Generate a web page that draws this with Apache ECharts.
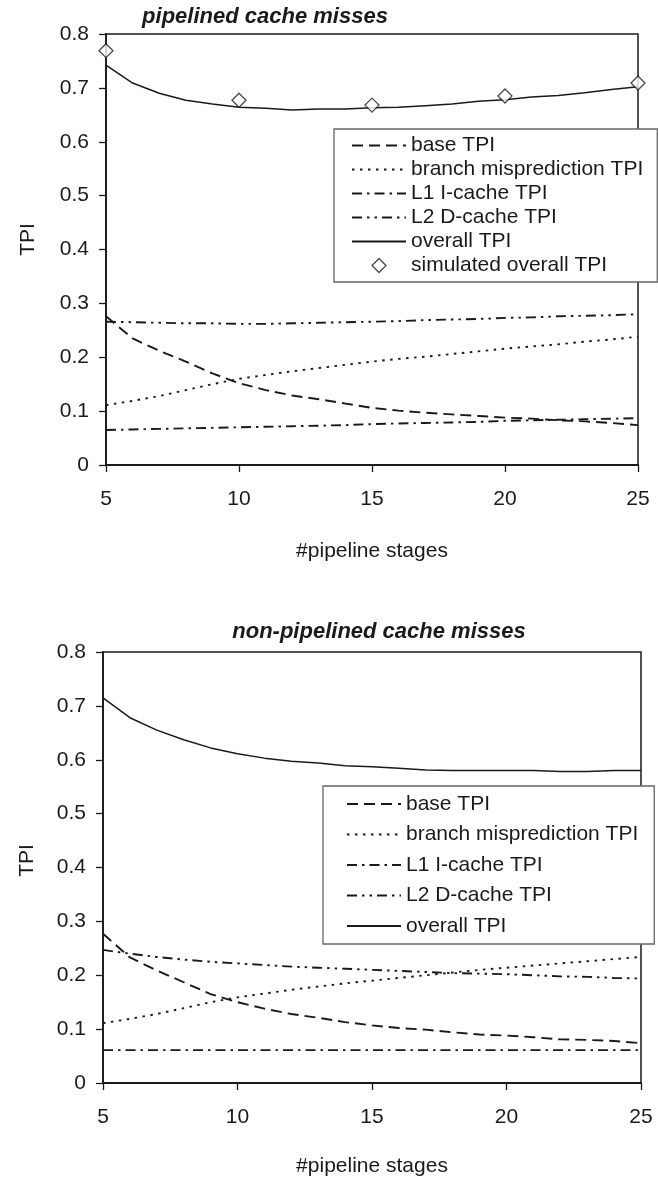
<!DOCTYPE html>
<html>
<head>
<meta charset="utf-8">
<script src="https://cdn.jsdelivr.net/npm/echarts@6/dist/echarts.min.js"></script>
<style>
html,body{margin:0;padding:0;background:#fff;}
#chart{width:658px;height:1183px;}
</style>
</head>
<body>
<div id="chart"></div>
<script>
// ---- data ----
var stages = [5,6,7,8,9,10,11,12,13,14,15,16,17,18,19,20,21,22,23,24,25];
var yTicks = [0,0.1,0.2,0.3,0.4,0.5,0.6,0.7,0.8];
var xTicks = [5,10,15,20,25];

var titleTop = 'pipelined cache misses';
var titleBottom = 'non-pipelined cache misses';
var seriesNames = ['base TPI','branch misprediction TPI','L1 I-cache TPI','L2 D-cache TPI','overall TPI','simulated overall TPI'];

// top chart: pipelined cache misses
var topBase     = [0.276,0.235,0.212,0.192,0.170,0.152,0.139,0.129,0.122,0.114,0.106,0.101,0.097,0.094,0.091,0.088,0.086,0.083,0.081,0.078,0.074];
var topBranch   = [0.111,0.119,0.128,0.139,0.150,0.160,0.167,0.174,0.180,0.186,0.192,0.197,0.201,0.206,0.211,0.216,0.220,0.224,0.229,0.233,0.238];
var topL1       = [0.065,0.066,0.067,0.068,0.069,0.070,0.071,0.072,0.073,0.074,0.076,0.077,0.078,0.079,0.080,0.082,0.083,0.084,0.085,0.086,0.087];
var topL2       = [0.266,0.265,0.264,0.263,0.263,0.262,0.262,0.263,0.264,0.265,0.266,0.267,0.269,0.270,0.271,0.273,0.274,0.276,0.277,0.278,0.280];
var topOverall  = [0.742,0.709,0.690,0.677,0.670,0.664,0.662,0.659,0.661,0.661,0.663,0.664,0.667,0.670,0.675,0.678,0.683,0.686,0.691,0.697,0.702];
var simStages   = [5,10,15,20,25];
var simOverall  = [0.769,0.677,0.668,0.685,0.709];

// bottom chart: non-pipelined cache misses
var botBase     = [0.277,0.233,0.209,0.187,0.165,0.150,0.138,0.128,0.121,0.113,0.107,0.102,0.099,0.094,0.090,0.088,0.085,0.081,0.080,0.078,0.074];
var botBranch   = [0.111,0.119,0.128,0.139,0.150,0.159,0.166,0.173,0.179,0.185,0.190,0.195,0.200,0.205,0.210,0.214,0.218,0.222,0.226,0.230,0.234];
var botL1       = [0.061,0.061,0.061,0.061,0.061,0.061,0.061,0.061,0.061,0.061,0.061,0.061,0.061,0.061,0.061,0.061,0.061,0.061,0.061,0.061,0.061];
var botL2       = [0.247,0.240,0.234,0.229,0.225,0.222,0.219,0.216,0.214,0.212,0.210,0.208,0.206,0.204,0.203,0.202,0.200,0.198,0.197,0.195,0.194];
var botOverall  = [0.715,0.678,0.655,0.637,0.622,0.611,0.603,0.597,0.594,0.589,0.587,0.584,0.581,0.580,0.580,0.580,0.580,0.578,0.578,0.580,0.580];

// ---- build ----
var FONT = '"Liberation Sans", Arial, Helvetica, sans-serif';
var INK = '#1a1a1a';
function pairs(xs, ys){ return xs.map(function(x,i){ return [x, ys[i]]; }); }
var dashStyles = [[11,6],[2.5,5.5],[10,5,2.5,5],[10,5,2.5,5,2.5,5],null];
var DIAMOND_ICON = 'path://M7,0L14,7L7,14L0,7Z';

function lineSeries(name, idx, xs, ys, styleIdx){
  var ds = dashStyles[styleIdx];
  return {
    name: name, type: 'line', xAxisIndex: idx, yAxisIndex: idx,
    data: pairs(xs, ys), symbol: 'none', showSymbol: false, smooth: false,
    lineStyle: { color: INK, width: ds ? 1.9 : 1.5, type: ds ? ds : 'solid' },
    itemStyle: { color: INK },
    emphasis: { disabled: true }, animation: false
  };
}

function xAxisDef(idx, gap){
  return {
    type: 'value', gridIndex: idx, min: xTicks[0], max: xTicks[xTicks.length-1], interval: 5,
    name: '#pipeline stages', nameLocation: 'middle', nameGap: gap,
    nameTextStyle: { fontFamily: FONT, fontSize: 21, color: INK },
    axisLine: { show: true, onZero: false, lineStyle: { color: INK, width: 1.8 } },
    axisTick: { show: true, length: 7, lineStyle: { color: INK, width: 1.3 } },
    axisLabel: { margin: 24, fontFamily: FONT, fontSize: 21, color: INK },
    splitLine: { show: false }
  };
}
function yAxisDef(idx, gap, shift){
  return {
    type: 'value', gridIndex: idx, min: yTicks[0], max: yTicks[yTicks.length-1], interval: 0.1,
    name: 'TPI', nameLocation: 'middle', nameGap: gap, nameRotate: 90,
    nameTextStyle: { fontFamily: FONT, fontSize: 21, color: INK, padding: [0, 0, 0, shift] },
    axisLine: { show: true, lineStyle: { color: INK, width: 1.8 } },
    axisTick: { show: true, length: 7, lineStyle: { color: INK, width: 1.3 } },
    axisLabel: { margin: 17, fontFamily: FONT, fontSize: 21, color: INK },
    splitLine: { show: false }
  };
}
function legendDef(idx, left, top, gap, pad, names){
  return {
    orient: 'vertical', left: left, top: top, itemGap: gap, padding: pad,
    itemWidth: 54, itemHeight: 14,
    backgroundColor: '#fff', borderColor: '#666', borderWidth: 1.3,
    textStyle: { fontFamily: FONT, fontSize: 21, color: INK },
    data: names.map(function(n){
      if (n === 'simulated overall TPI') {
        return { name: n, icon: DIAMOND_ICON,
                 itemStyle: { color: '#fff', borderColor: INK, borderWidth: 1.3 } };
      }
      return { name: n,
               itemStyle: { color: 'rgba(0,0,0,0)', borderColor: 'rgba(0,0,0,0)', borderWidth: 0, opacity: 0 } };
    }),
    selectedMode: false, z: 10
  };
}

var series = [
  lineSeries(seriesNames[0], 0, stages, topBase, 0),
  lineSeries(seriesNames[1], 0, stages, topBranch, 1),
  lineSeries(seriesNames[2], 0, stages, topL1, 2),
  lineSeries(seriesNames[3], 0, stages, topL2, 3),
  lineSeries(seriesNames[4], 0, stages, topOverall, 4),
  {
    name: seriesNames[5], type: 'scatter', xAxisIndex: 0, yAxisIndex: 0,
    data: pairs(simStages, simOverall), symbol: 'diamond', symbolSize: 14,
    itemStyle: { color: '#fff', borderColor: INK, borderWidth: 1.3 },
    emphasis: { disabled: true }, animation: false, z: 5
  },
  lineSeries(seriesNames[0], 1, stages, botBase, 0),
  lineSeries(seriesNames[1], 1, stages, botBranch, 1),
  lineSeries(seriesNames[2], 1, stages, botL1, 2),
  lineSeries(seriesNames[3], 1, stages, botL2, 3),
  lineSeries(seriesNames[4], 1, stages, botOverall, 4)
];

var option = {
  backgroundColor: '#fff',
  animation: false,
  title: [
    { text: titleTop, left: 265, textAlign: 'center', top: 6, padding: 0,
      textStyle: { fontFamily: FONT, fontSize: 22, fontWeight: 'bold', fontStyle: 'italic', color: INK } },
    { text: titleBottom, left: 379, textAlign: 'center', top: 621, padding: 0,
      textStyle: { fontFamily: FONT, fontSize: 22, fontWeight: 'bold', fontStyle: 'italic', color: INK } }
  ],
  grid: [
    { left: 106, top: 34, width: 532, height: 431, show: true, borderColor: INK, borderWidth: 1.5, backgroundColor: 'transparent' },
    { left: 103, top: 652, width: 538, height: 431, show: true, borderColor: INK, borderWidth: 1.5, backgroundColor: 'transparent' }
  ],
  xAxis: [ xAxisDef(0, 76), xAxisDef(1, 73) ],
  yAxis: [ yAxisDef(0, 67, 20), yAxisDef(1, 65, 14) ],
  legend: [
    legendDef(0, 334, 129, 3, [6, 14, 6, 17], seriesNames.slice(0, 6)),
    legendDef(1, 323, 786, 9.5, [7.5, 16, 7.5, 23], seriesNames.slice(0, 5))
  ],
  series: series
};

var chart = echarts.init(document.getElementById('chart'), null, { renderer: 'canvas' });
chart.setOption(option);
</script>
</body>
</html>
